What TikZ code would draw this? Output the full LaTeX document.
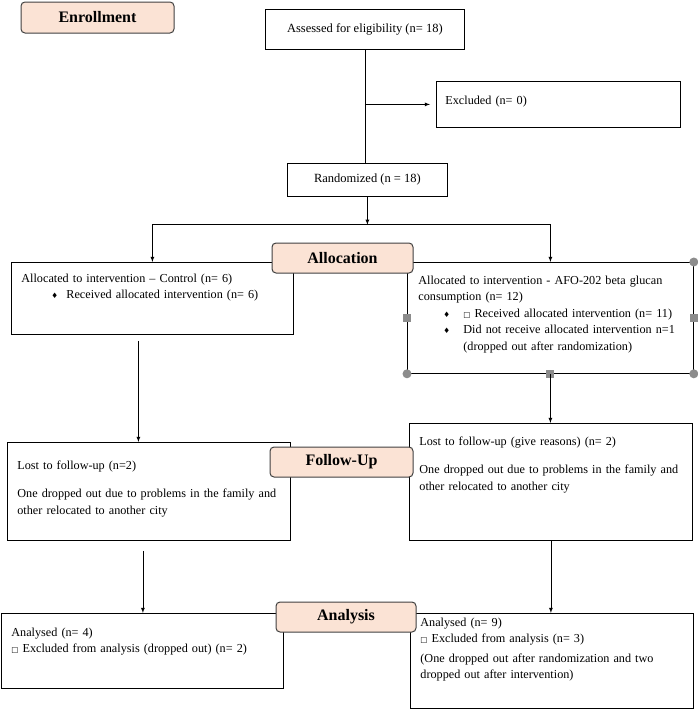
\documentclass[tikz,border=0pt]{standalone}
\usepackage{fontspec}
\setmainfont{Liberation Serif}
\newfontfamily\symfont{DejaVu Sans}
\usetikzlibrary{arrows}
\definecolor{peach}{HTML}{FBE3D5}
\definecolor{handle}{HTML}{8C8C8C}
\newcommand{\dmd}[1]{\makebox[#1][l]{\symfont\fontsize{7.5}{7.5}\selectfont ♦}}
\newcommand{\sqr}{{\symfont\fontsize{7.5}{7.5}\selectfont □}}

\begin{document}
\begin{tikzpicture}[x=1pt,y=-1pt,>=latex,
  box/.style={draw, line width=0.8pt, anchor=north west, align=left, inner xsep=10pt, inner ysep=0pt, font=\fontsize{12.2}{16.5}\selectfont},
  cbox/.style={draw, line width=0.8pt, anchor=north west, align=center, inner sep=0pt, font=\fontsize{12.5}{14}\selectfont},
  stage/.style={draw=black!75, line width=1pt, fill=peach, rounded corners=4pt, inner sep=0pt, font=\bfseries\fontsize{16}{18}\selectfont},
  link/.style={line width=0.8pt}]
\useasboundingbox (0,0) rectangle (697,712);

% enrollment
\node[cbox, minimum width=199pt, minimum height=40pt] (assess) at (265,9) {Assessed for eligibility (n= 18)};
\node[box, inner xsep=9pt, text width=226pt, text height=23pt, text depth=23pt] (excl) at (436,81) {Excluded (n= 0)};
\node[cbox, minimum width=160pt, minimum height=33pt] (rand) at (287,163) {Randomized (n = 18)};

% allocation
\node[box, text width=262pt, text height=20pt, text depth=52pt] (alloc1) at (11,262) {Allocated to intervention -- Control (n= 6)\\
  \hspace*{30pt}\dmd{15pt}Received allocated intervention (n= 6)};
\node[box, inner xsep=11pt, text width=264pt, text height=22pt, text depth=89pt] (alloc2) at (407,262) {Allocated to intervention - AFO-202 beta glucan\\
  consumption (n= 12)\\
  \hspace*{25pt}\dmd{20pt}\sqr\ Received allocated intervention (n= 11)\\
  \hspace*{25pt}\dmd{20pt}Did not receive allocated intervention n=1\\
  \hspace*{45pt}(dropped out after randomization)};

% follow-up
\node[box, text width=263pt, text height=27pt, text depth=71pt] (fu1) at (7,442) {Lost to follow-up (n=2)\\[12pt]
  One dropped out due to problems in the family and\\
  other relocated to another city};
\node[box, text width=263pt, text height=22pt, text depth=95pt] (fu2) at (409,423) {Lost to follow-up (give reasons) (n= 2)\\[12pt]
  One dropped out due to problems in the family and\\
  other relocated to another city};

% analysis
\node[box, text width=262pt, text height=23pt, text depth=52pt] (an1) at (1,613) {Analysed (n= 4)\\
  \sqr\ Excluded from analysis (dropped out) (n= 2)};
\node[box, text width=263pt, text height=13pt, text depth=82pt] (an2) at (410,613) {Analysed (n= 9)\\
  \sqr\ Excluded from analysis (n= 3)\\[3pt]
  (One dropped out after randomization and two\\
  dropped out after intervention)};

% selection handles
\foreach \c in {north west, north east, south west, south east}
  \fill[handle] (alloc2.\c) circle (4.5pt);
\foreach \c in {west, east, south}
  \fill[handle] ([xshift=-4pt,yshift=-4pt]alloc2.\c) rectangle ([xshift=4pt,yshift=4pt]alloc2.\c);

% connectors
\draw[link] (assess.south) -- (assess.south |- rand.north);
\draw[link,->] (assess.south |- excl.west) -- ([xshift=-6pt]excl.west);
\coordinate (split) at ([yshift=-28pt]rand.south);
\draw[link,->] (rand.south) -- (split);
\draw[link,<->] (alloc1.north) -- (alloc1.north |- split) -- (alloc2.north |- split) -- (alloc2.north);
\coordinate (a1) at ([xshift=-14pt,yshift=-6pt]alloc1.south);
\draw[link,->] (a1) -- (a1 |- fu1.north);
\draw[link,->] (alloc2.south) -- (alloc2.south |- fu2.north);
\coordinate (f1) at ([xshift=-6pt,yshift=-10pt]fu1.south);
\draw[link,->] (f1) -- (f1 |- an1.north);
\draw[link,->] (fu2.south) -- (fu2.south |- an2.north);

% stage labels
\node[stage, minimum width=153pt, minimum height=31pt] (enrol) at (97.5,17.5) {Enrollment};
\node[stage, minimum width=141pt, minimum height=30pt] (alloc) at (342.5,258) {Allocation};
\node[stage, minimum width=143pt, minimum height=30pt] (follow) at (341.5,462) {Follow-Up};
\node[stage, minimum width=140pt, minimum height=30pt] (anal) at (346,617) {Analysis};
\end{tikzpicture}
\end{document}
